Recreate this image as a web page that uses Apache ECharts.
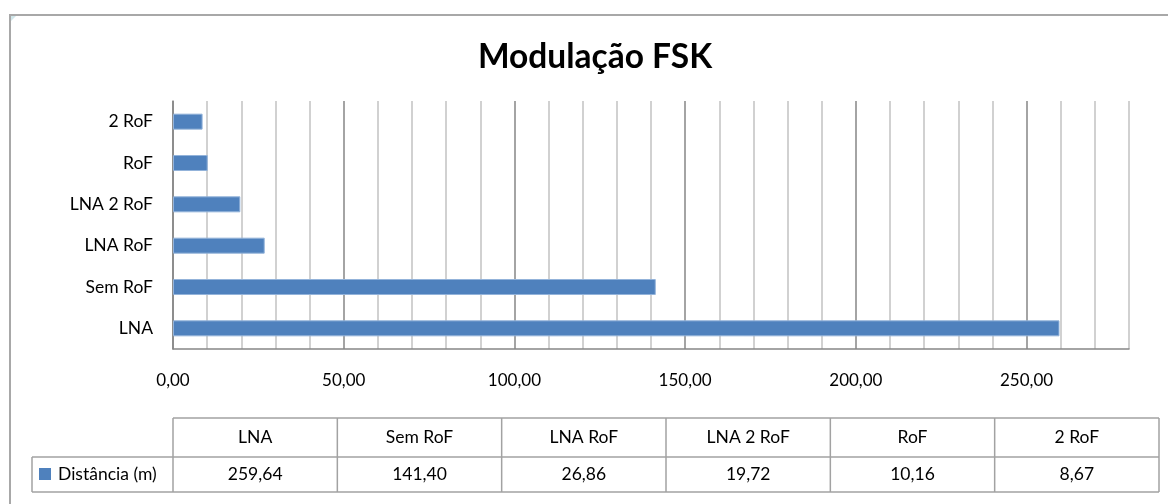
<!DOCTYPE html>
<html>
<head>
<meta charset="utf-8">
<style>
  html, body { margin: 0; padding: 0; background: #fff; }
  #chart { width: 1168px; height: 504px; }
</style>
<script src="https://cdn.jsdelivr.net/npm/echarts@6/dist/echarts.min.js"></script>
</head>
<body>
<div id="chart"></div>
<script>
// Categories, bottom to top on the axis, same order as the table columns
const categories = ['LNA', 'Sem RoF', 'LNA RoF', 'LNA 2 RoF', 'RoF', '2 RoF'];
// Distance per configuration, metres
const distances = [259.64, 141.40, 26.86, 19.72, 10.16, 8.67];
const seriesName = 'Distância (m)';
const chartTitle = 'Modulação FSK';

const FONT = 'Lato, "Liberation Sans", sans-serif';
const BAR_COLOR = '#4F81BD';
const GRID_LINE = '#c2c2c2';
const MAJOR_LINE = '#868686';
const TABLE_LINE = '#a2a2a2';
const TEXT_SIZE = 17.5;

const fmt = v => v.toFixed(2).replace('.', ',');

const chart = echarts.init(document.getElementById('chart'), null, { renderer: 'canvas' });

// Data table under the plot, built from the same arrays
const table = { left: 173, right: 1159, legendLeft: 32, top: 418, mid: 457, bottom: 492 };
const colW = (table.right - table.left) / categories.length;
const tableEls = [];
const line = (x1, y1, x2, y2) => ({
  type: 'line', silent: true,
  shape: { x1, y1, x2, y2 },
  style: { stroke: TABLE_LINE, lineWidth: 1.5 }
});
// horizontal rules
tableEls.push(line(table.left, table.top, table.right, table.top));
tableEls.push(line(table.legendLeft, table.mid, table.right, table.mid));
tableEls.push(line(table.legendLeft, table.bottom, table.right, table.bottom));
// vertical rules
tableEls.push(line(table.legendLeft, table.mid, table.legendLeft, table.bottom));
for (let i = 0; i <= categories.length; i++) {
  const x = table.left + i * colW;
  tableEls.push(line(x, table.top, x, table.bottom));
}
const cellFont = TEXT_SIZE + 'px ' + FONT;
categories.forEach((c, i) => {
  const cx = table.left + (i + 0.5) * colW;
  tableEls.push({
    type: 'text', silent: true, x: cx, y: (table.top + table.mid) / 2,
    style: { text: c, font: cellFont, fill: '#000', align: 'center', verticalAlign: 'middle' }
  });
  tableEls.push({
    type: 'text', silent: true, x: cx, y: (table.mid + table.bottom) / 2,
    style: { text: fmt(distances[i]), font: cellFont, fill: '#000', align: 'center', verticalAlign: 'middle' }
  });
});
// legend key + series name
tableEls.push({
  type: 'rect', silent: true,
  shape: { x: 39, y: 468, width: 12, height: 12 },
  style: { fill: BAR_COLOR }
});
tableEls.push({
  type: 'text', silent: true, x: 58, y: (table.mid + table.bottom) / 2,
  style: { text: seriesName, font: cellFont, fill: '#000', align: 'left', verticalAlign: 'middle' }
});

// chart-area frame, corner mark and title
const frameEls = [
  {
    type: 'polyline', silent: true,
    shape: { points: [[10, 504], [10, 15], [1168, 15]] },
    style: { stroke: '#a8a8a8', lineWidth: 2, fill: null }
  },
  {
    type: 'polygon', silent: true,
    shape: { points: [[11, 16], [16, 16], [11, 21]] },
    style: { fill: '#cfe6ea' }
  },
  {
    type: 'text', silent: true, x: 595, y: 57,
    style: { text: chartTitle, font: 'bold 33.5px ' + FONT, fill: '#000', align: 'center', verticalAlign: 'middle' }
  }
];

// every 5th grid line (the 50s) is drawn darker
const splitColors = [MAJOR_LINE, GRID_LINE, GRID_LINE, GRID_LINE, GRID_LINE];

chart.setOption({
  animation: false,
  backgroundColor: '#fff',
  grid: { left: 173, right: 39, top: 101, bottom: 155, containLabel: false },
  xAxis: {
    type: 'value',
    min: 0, max: 280, interval: 10,
    axisLine: { show: true, lineStyle: { color: MAJOR_LINE, width: 1.5 } },
    axisTick: { show: false },
    axisLabel: {
      margin: 23,
      fontFamily: FONT, fontSize: 17, color: '#000',
      formatter: v => (v % 50 === 0 ? fmt(v) : '')
    },
    splitLine: {
      show: true, showMinLine: true, showMaxLine: true,
      lineStyle: { color: splitColors, width: 1.5 }
    }
  },
  yAxis: {
    type: 'category',
    data: categories,
    axisLine: { show: true, lineStyle: { color: MAJOR_LINE, width: 1.5 } },
    axisTick: { show: false },
    axisLabel: { margin: 20, fontFamily: FONT, fontSize: TEXT_SIZE, color: '#000' }
  },
  series: [{
    name: seriesName,
    type: 'bar',
    data: distances,
    barWidth: 16,
    itemStyle: { color: BAR_COLOR, borderColor: '#93b3da', borderWidth: 1 }
  }],
  graphic: { elements: frameEls.concat(tableEls) }
});
</script>
</body>
</html>
